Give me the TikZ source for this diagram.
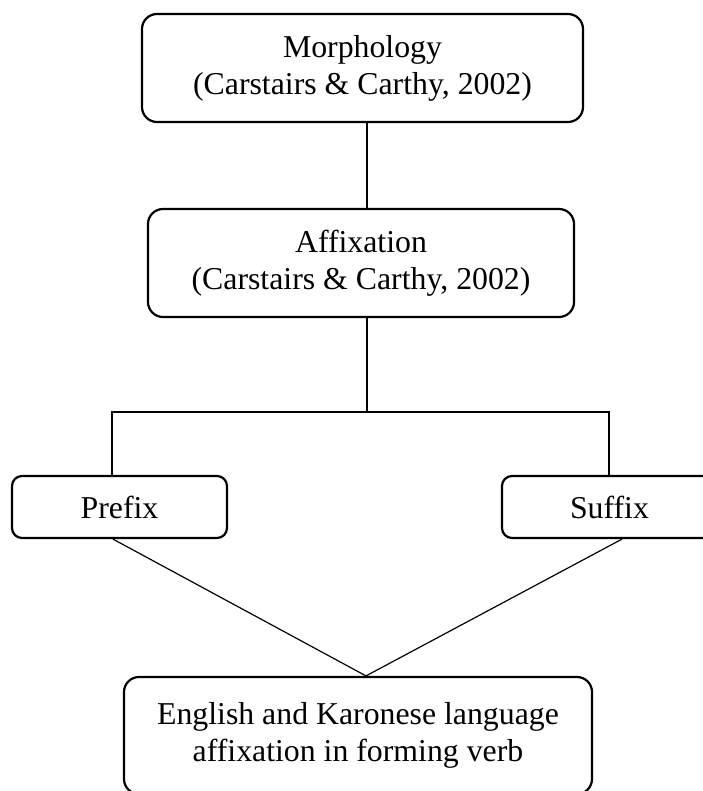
\documentclass[tikz,border=0pt]{standalone}
\usepackage{fontspec}
\setmainfont{Liberation Serif}
\begin{document}
\begin{tikzpicture}[x=1pt,y=-1pt,
  box/.style={draw, line width=2.2pt, rounded corners=15pt, align=center, inner sep=0pt,
    font=\fontsize{31.8}{37}\selectfont},
  smallbox/.style={box, rounded corners=10pt},
  link/.style={line width=1.2pt}]
\useasboundingbox (0,0) rectangle (702,791);
\node[box, minimum width=441pt, minimum height=108pt] (morph) at (362.5,68) {Morphology\\(Carstairs \& Carthy, 2002)};
\node[box, minimum width=426pt, minimum height=108pt] (affix) at (361,263) {Affixation\\(Carstairs \& Carthy, 2002)};
\node[smallbox, minimum width=215pt, minimum height=62pt] (prefix) at (119.5,507) {Prefix};
\node[smallbox, minimum width=215pt, minimum height=62pt] (suffix) at (609.5,507) {Suffix};
\node[box, minimum width=468pt, minimum height=117pt] (target) at (358,735.5) {English and Karonese language\\affixation in forming verb};
\coordinate (spine) at (367,0);
\coordinate (pl) at (112,412);
\coordinate (pr) at (609,412);
\coordinate (dl) at (113,0);
\coordinate (dr) at (622,0);
\coordinate (apex) at (366,0);
\draw[link] (morph.south -| spine) -- (affix.north -| spine);
\draw[link] (affix.south -| spine) -- (spine |- pl);
\draw[link] (prefix.north -| pl) -- (pl) -- (pr) -- (suffix.north -| pr);
\draw[link] (prefix.south -| dl) -- (target.north -| apex) -- (suffix.south -| dr);
\end{tikzpicture}
\end{document}
